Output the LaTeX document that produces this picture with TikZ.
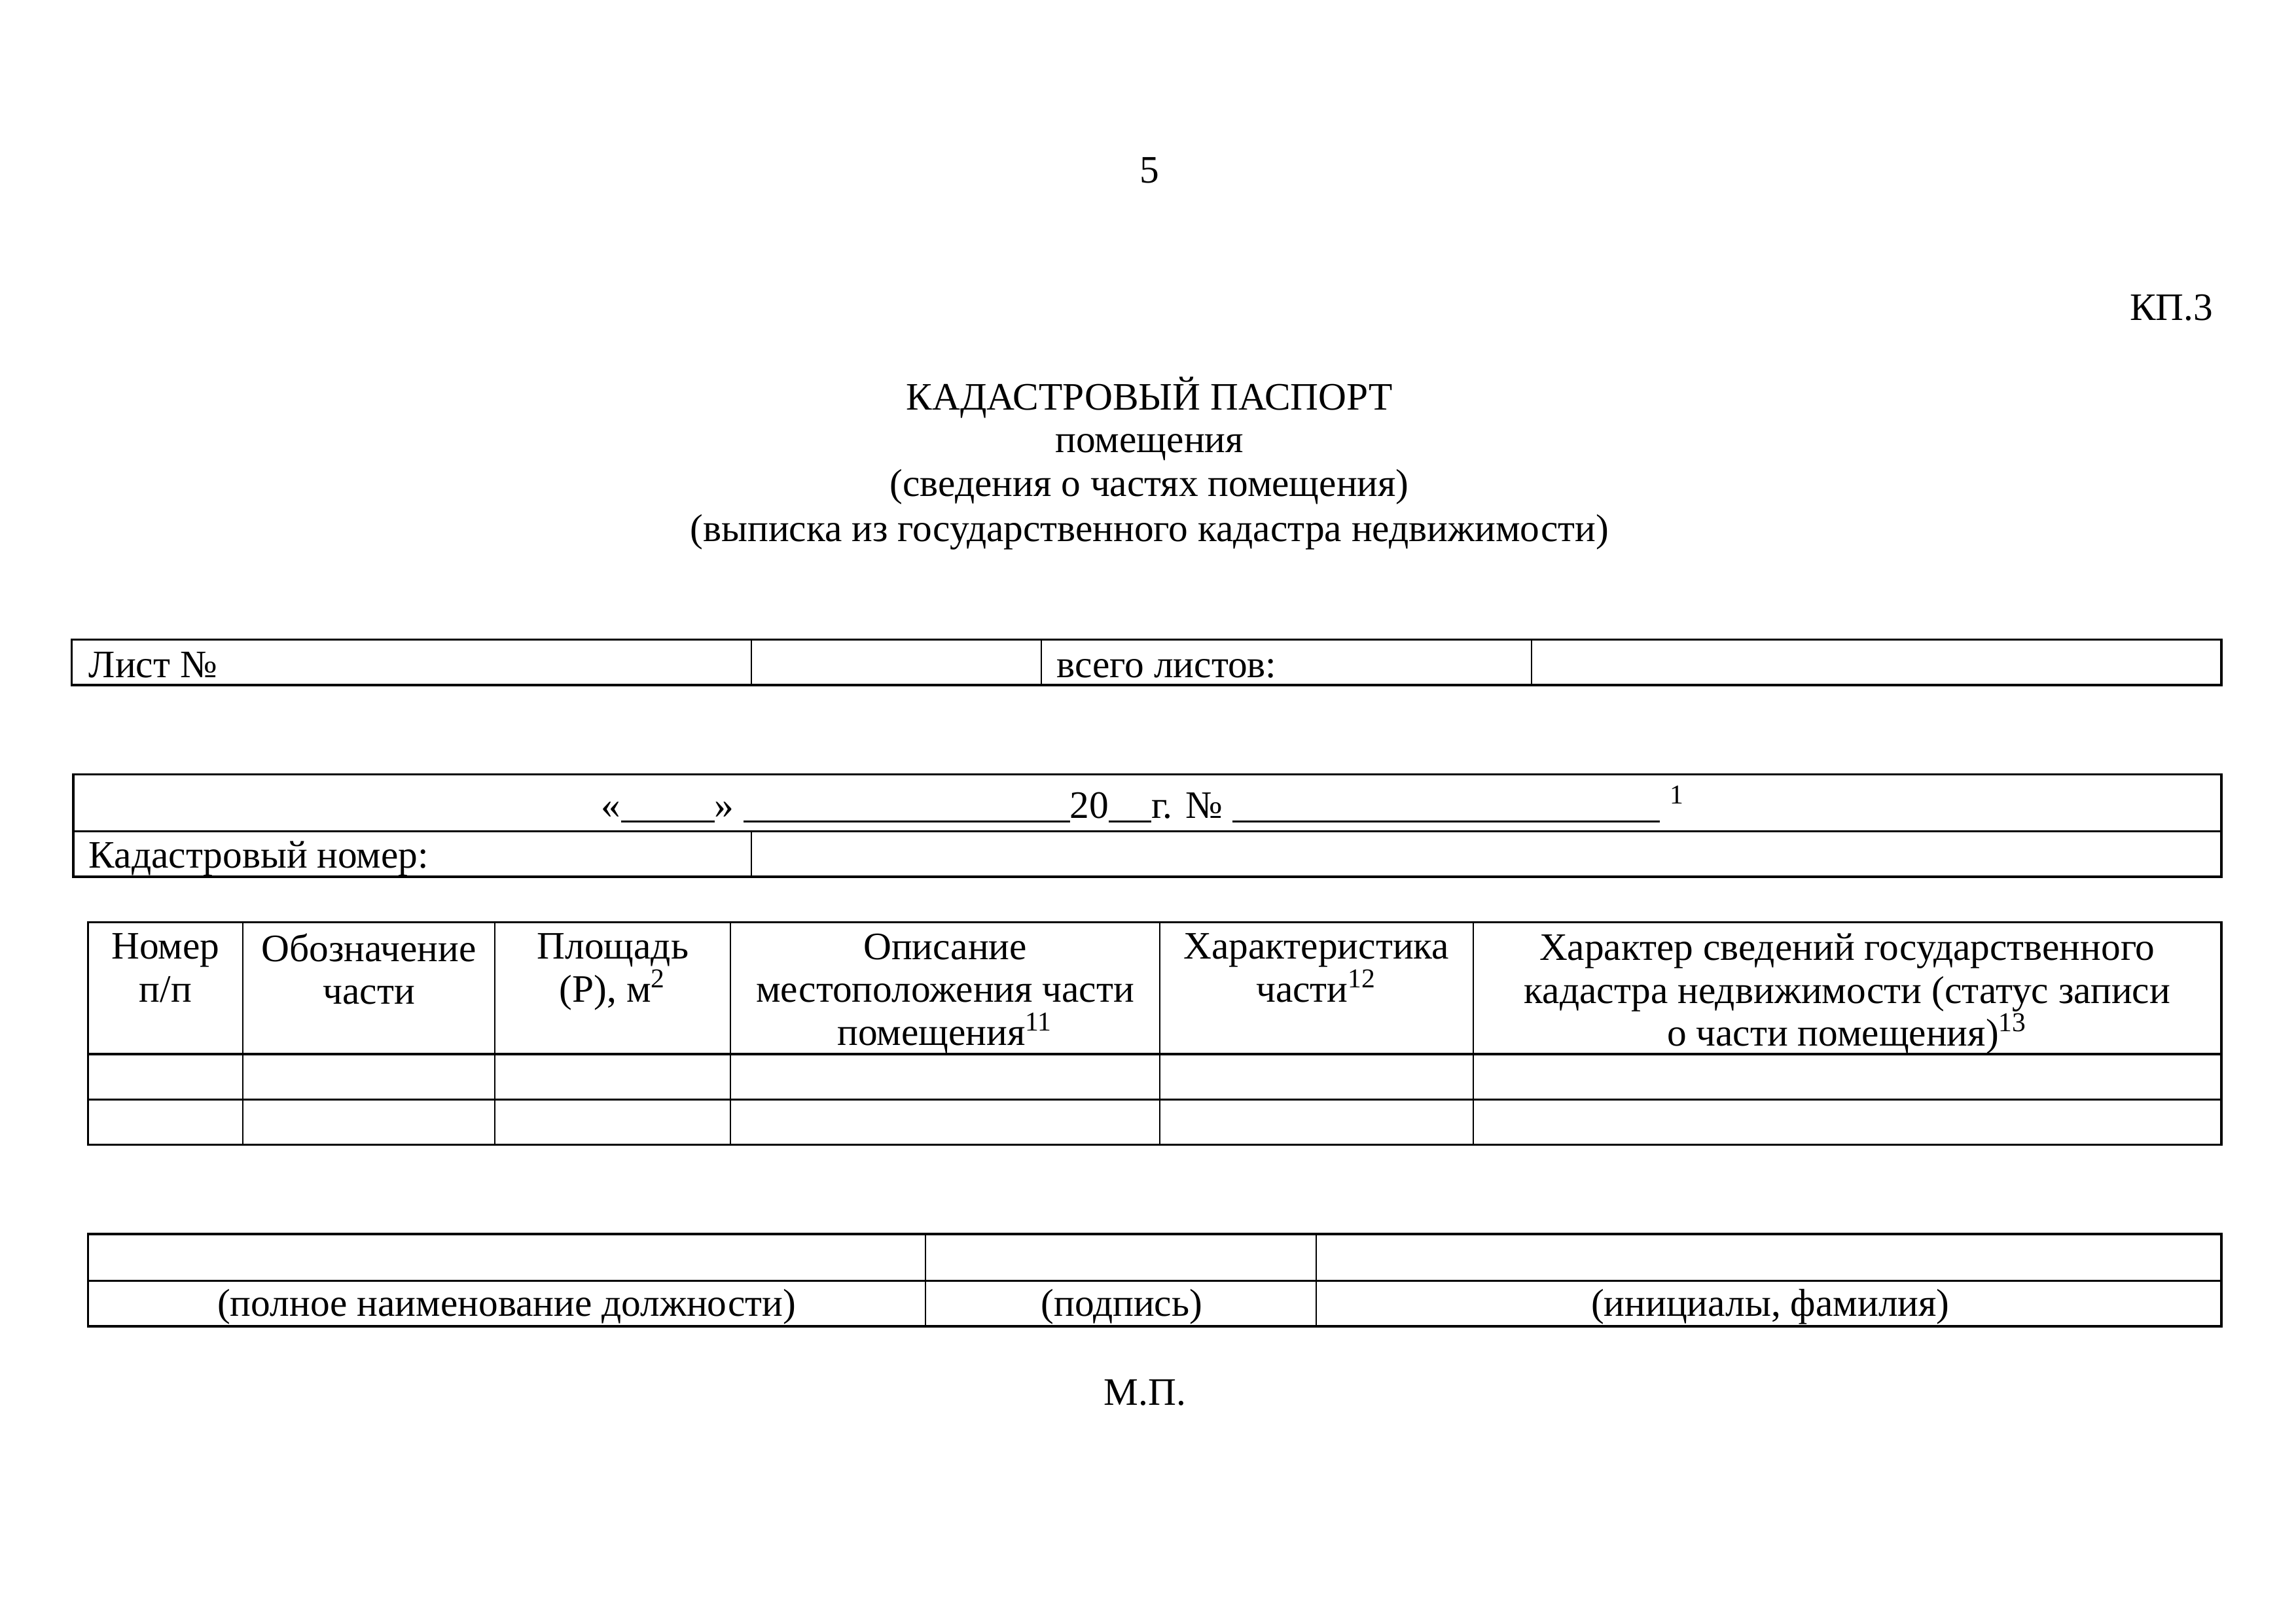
\documentclass[tikz,border=0pt]{standalone}
\usepackage{fontspec}
\setmainfont{Liberation Serif}

\newcommand{\blankline}[1]{\rule[-1.6pt]{#1}{0.7pt}}

\begin{document}
\begin{tikzpicture}[x=0.018941cm,y=-0.018941cm,line width=0.8pt,
		every node/.style={font=\fontsize{14.3}{15.8}\selectfont,inner sep=0pt},
		divider/.style={line width=0.5pt},
		lbl/.style={anchor=base west},
		mid/.style={anchor=base},
		head/.style={anchor=north,align=center}]

	\useasboundingbox (0,0) rectangle (1568,1109);

	% page heading
	\node [mid] (pagenum) at (785,125) {5};
	\node [anchor=base east] (formcode) at (1512,219) {КП.3};
	\node [mid] (title) at (785,280) {КАДАСТРОВЫЙ ПАСПОРТ};
	\node [mid] (object) at (785,309) {помещения};
	\node [mid] (about) at (785,339) {(сведения о частях помещения)};
	\node [mid] (extract) at (785,370) {(выписка из государственного кадастра недвижимости)};

	% sheet count
	\draw (49,437) rectangle (1517,468);
	\foreach \x in {513,711,1046}
		\draw [divider] (\x,437) -- (\x,468);
	\node [lbl] (sheetno) at (60,463) {Лист №};
	\node [lbl] (sheetsall) at (721,463) {всего листов:};

	% date and number
	\draw (50,529) rectangle (1517,599);
	\draw (50,568) -- (1517,568);
	\draw [divider] (513,568) -- (513,599);
	\node [lbl] (dateline) at (410,559) {«\blankline{1.21cm}» \blankline{4.22cm}20\blankline{0.55cm}г. № \blankline{5.53cm} \textsuperscript{1}};
	\node [lbl] (cadno) at (60,593) {Кадастровый номер:};

	% parts of the premises
	\draw (60,630) rectangle (1517,782);
	\draw (60,720) -- (1517,720);
	\draw (60,751) -- (1517,751);
	\foreach \x in {166,338,499,792,1006}
		\draw [divider] (\x,630) -- (\x,782);
	\node [head] (colnum) at (113,637) {Номер\\п/п};
	\node [head] (colmark) at (252,637) {Обозначение\\части};
	\node [head] (colarea) at (418.5,637) {Площадь\\(Р), м\textsuperscript{2}};
	\node [head] (colplace) at (645.5,637) {Описание\\местоположения части\\помещения\textsuperscript{11}};
	\node [head] (colfeature) at (899,637) {Характеристика\\части\textsuperscript{12}};
	\node [head] (colstatus) at (1261.5,637) {Характер сведений государственного\\кадастра недвижимости (статус записи\\о части помещения)\textsuperscript{13}};

	% signature
	\draw (60,843) rectangle (1517,906);
	\draw (60,875) -- (1517,875);
	\foreach \x in {632,899}
		\draw [divider] (\x,843) -- (\x,906);
	\node [mid] (post) at (346,899) {(полное наименование должности)};
	\node [mid] (signed) at (766,899) {(подпись)};
	\node [mid] (fullname) at (1209,899) {(инициалы, фамилия)};

	\node [mid] (stamp) at (782,960) {М.П.};

\end{tikzpicture}
\end{document}
